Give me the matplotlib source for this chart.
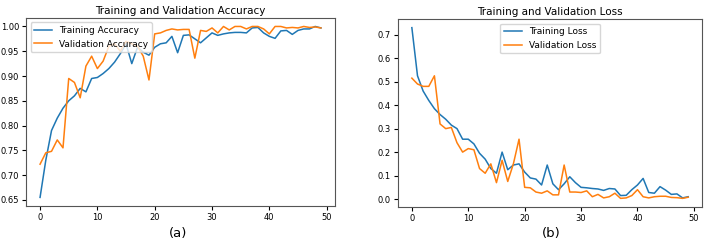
import numpy as np
import matplotlib
matplotlib.use('Agg')
import matplotlib.pyplot as plt

epochs = np.arange(50)

train_acc = [0.655, 0.73, 0.79, 0.815, 0.835, 0.85, 0.86, 0.875, 0.868, 0.895,
             0.897, 0.905, 0.915, 0.928, 0.945, 0.965, 0.925, 0.958, 0.948, 0.942,
             0.958, 0.965, 0.967, 0.98, 0.947, 0.982, 0.983, 0.975, 0.967, 0.977,
             0.987, 0.982, 0.985, 0.987, 0.988, 0.988, 0.987, 0.997, 0.998, 0.987,
             0.98, 0.976, 0.991, 0.992, 0.984, 0.992, 0.995, 0.995, 1.0, 0.997]
val_acc = [0.722, 0.745, 0.748, 0.771, 0.755, 0.895, 0.887, 0.856, 0.92, 0.94,
           0.915, 0.93, 0.96, 0.965, 0.95, 0.97, 0.965, 0.96, 0.94, 0.892,
           0.985, 0.987, 0.992, 0.995, 0.993, 0.994, 0.994, 0.936, 0.992, 0.99,
           0.997, 0.987, 1.0, 0.993, 1.0, 1.0, 0.995, 1.0, 1.0, 0.995,
           0.985, 1.0, 1.0, 0.997, 0.998, 0.997, 1.0, 0.998, 0.999, 0.997]

train_loss = [0.73, 0.525, 0.46, 0.42, 0.385, 0.36, 0.34, 0.315, 0.30, 0.255,
              0.255, 0.235, 0.195, 0.17, 0.13, 0.11, 0.2, 0.125, 0.145, 0.15,
              0.115, 0.09, 0.085, 0.06, 0.145, 0.065, 0.04, 0.065, 0.095, 0.07,
              0.05, 0.048, 0.045, 0.043, 0.037, 0.045, 0.043, 0.015, 0.016, 0.04,
              0.06, 0.088, 0.028, 0.025, 0.053, 0.038, 0.02, 0.022, 0.005, 0.01]
val_loss = [0.515, 0.49, 0.48, 0.48, 0.525, 0.32, 0.30, 0.305, 0.24, 0.20,
            0.215, 0.21, 0.13, 0.11, 0.15, 0.07, 0.165, 0.075, 0.15, 0.255,
            0.05, 0.048, 0.03, 0.025, 0.035, 0.018, 0.018, 0.145, 0.03, 0.03,
            0.028, 0.035, 0.01, 0.02, 0.005, 0.01, 0.025, 0.003, 0.005, 0.015,
            0.04, 0.01, 0.005, 0.01, 0.012, 0.012, 0.007, 0.006, 0.003, 0.008]

fig = plt.figure(figsize=(7.07, 2.42), dpi=100)

# accuracy
ax1 = fig.add_axes([0.0368, 0.149, 0.437, 0.777])
ax1.plot(epochs, train_acc, label='Training Accuracy', lw=1.1)
ax1.plot(epochs, val_acc, label='Validation Accuracy', lw=1.1)
ax1.legend(loc='upper left', fontsize=6.5)
ax1.set_title('Training and Validation Accuracy', fontsize=7.5, pad=3)
ax1.set_yticks([0.65, 0.70, 0.75, 0.80, 0.85, 0.90, 0.95, 1.00])
ax1.tick_params(labelsize=6, length=3, pad=2)

# loss
ax2 = fig.add_axes([0.563, 0.145, 0.430, 0.776])
ax2.plot(epochs, train_loss, label='Training Loss', lw=1.1)
ax2.plot(epochs, val_loss, label='Validation Loss', lw=1.1)
ax2.legend(loc='upper center', fontsize=6.5)
ax2.set_title('Training and Validation Loss', fontsize=7.5, pad=3)
ax2.tick_params(labelsize=6, length=3, pad=2)

for ax in (ax1, ax2):
    for s in ax.spines.values():
        s.set_edgecolor('#555555')

fig.text(0.252, 0.035, '(a)', ha='center', va='center', fontsize=9.5)
fig.text(0.779, 0.035, '(b)', ha='center', va='center', fontsize=9.5)

plt.savefig('out.png', dpi=100)
